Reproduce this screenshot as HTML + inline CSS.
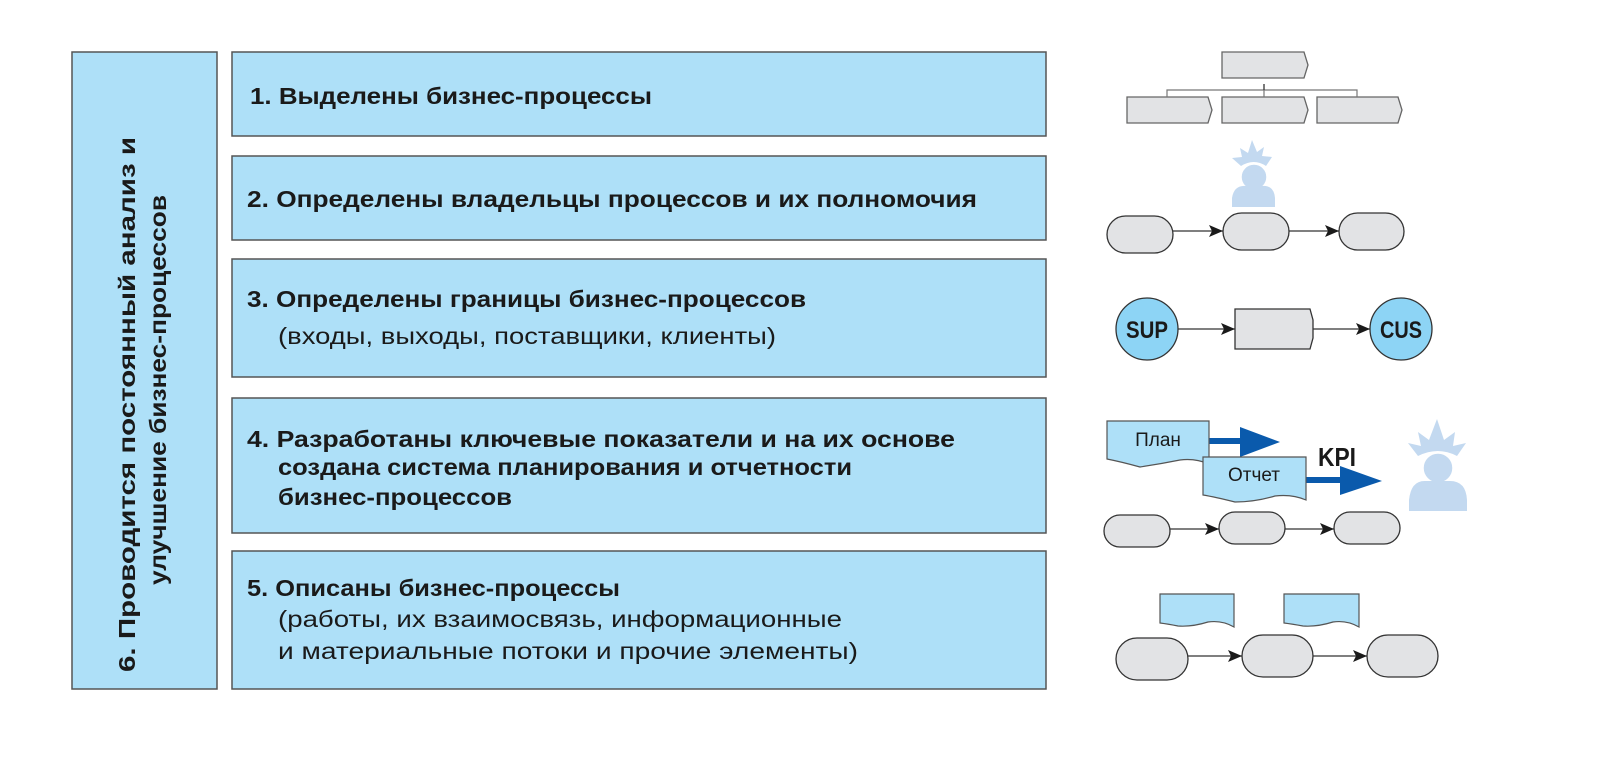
<!DOCTYPE html>
<html><head><meta charset="utf-8"><style>
html,body{margin:0;padding:0;background:#fff;}
svg{display:block;}
text{font-family:"Liberation Sans","DejaVu Sans",sans-serif;fill:#1a1a1a;}
.b{font-weight:bold;font-size:23px;}
.n{font-size:23px;}
</style></head><body>
<svg width="1597" height="769" viewBox="0 0 1597 769" xmlns="http://www.w3.org/2000/svg">
<defs>
<marker id="ah" markerWidth="14" markerHeight="12" refX="14" refY="6" orient="auto" markerUnits="userSpaceOnUse"><path d="M0,0 L14,6 L0,12 L3,6 Z" fill="#1a1a1a"/></marker>
</defs>
<g fill="#aee0f8" stroke="#555" stroke-width="1.5">
<rect x="72" y="52" width="145" height="637"/>
<rect x="232" y="52" width="814" height="84"/>
<rect x="232" y="156" width="814" height="84"/>
<rect x="232" y="259" width="814" height="118"/>
<rect x="232" y="398" width="814" height="135"/>
<rect x="232" y="551" width="814" height="138"/>
</g>
<text class="b" transform="translate(135,672) rotate(-90)" textLength="535" lengthAdjust="spacingAndGlyphs">6. Проводится постоянный анализ и</text>
<text class="b" transform="translate(166,585) rotate(-90)" textLength="390" lengthAdjust="spacingAndGlyphs">улучшение бизнес-процессов</text>

<text class="b" x="250" y="104" textLength="402" lengthAdjust="spacingAndGlyphs">1. Выделены бизнес-процессы</text>
<text class="b" x="247" y="207" textLength="730" lengthAdjust="spacingAndGlyphs">2. Определены владельцы процессов и их полномочия</text>
<text class="b" x="247" y="307" textLength="559" lengthAdjust="spacingAndGlyphs">3. Определены границы бизнес-процессов</text>
<text class="n" x="278" y="344" textLength="498" lengthAdjust="spacingAndGlyphs">(входы, выходы, поставщики, клиенты)</text>
<text class="b" x="247" y="447" textLength="708" lengthAdjust="spacingAndGlyphs">4. Разработаны ключевые показатели и на их основе</text>
<text class="b" x="278" y="475" textLength="574" lengthAdjust="spacingAndGlyphs">создана система планирования и отчетности</text>
<text class="b" x="278" y="505" textLength="234" lengthAdjust="spacingAndGlyphs">бизнес-процессов</text>
<text class="b" x="247" y="596" textLength="373" lengthAdjust="spacingAndGlyphs">5. Описаны бизнес-процессы</text>
<text class="n" x="278" y="627" textLength="564" lengthAdjust="spacingAndGlyphs">(работы, их взаимосвязь, информационные</text>
<text class="n" x="278" y="659" textLength="580" lengthAdjust="spacingAndGlyphs">и материальные потоки и прочие элементы)</text>

<!-- icon 1: hierarchy -->
<g fill="#e2e3e5" stroke="#666" stroke-width="1.3">
<path d="M1222,52 H1304 L1308,65 L1304,78 H1222 Z"/>
<path d="M1127,97 H1208 L1212,110 L1208,123 H1127 Z"/>
<path d="M1222,97 H1304 L1308,110 L1304,123 H1222 Z"/>
<path d="M1317,97 H1398 L1402,110 L1398,123 H1317 Z"/>
</g>
<path d="M1264,84 V97 M1167,97 V90 H1357 V97" fill="none" stroke="#777" stroke-width="1.2"/>
<path d="M1264,84 V90" stroke="#333" stroke-width="1.2"/>

<!-- person 1 -->
<g fill="#c3d9f0">
<path d="M1241,166 L1232,158 L1242,157 L1240,148 L1248,153 L1252,140 L1257,152 L1264,147 L1262,156 L1272,157 L1266,166 Q1254,158 1241,166 Z"/>
<circle cx="1254" cy="177" r="13" stroke="#fff" stroke-width="1.5"/>
<path d="M1232,207 V198 Q1234,185 1246,186 H1262 Q1274,185 1275,198 V207 Z"/>
</g>

<!-- row 2 ovals -->
<g fill="#e2e3e5" stroke="#333" stroke-width="1.3">
<rect x="1107" y="216" width="66" height="37" rx="18.5"/>
<rect x="1223" y="213" width="66" height="37" rx="18.5"/>
<rect x="1339" y="213" width="65" height="37" rx="18.5"/>
</g>
<g stroke="#333" stroke-width="1.2" marker-end="url(#ah)">
<line x1="1173" y1="231" x2="1223" y2="231"/>
<line x1="1289" y1="231" x2="1339" y2="231"/>
</g>

<!-- row 3 -->
<g stroke="#333" stroke-width="1.2" marker-end="url(#ah)">
<line x1="1178" y1="329" x2="1235" y2="329"/>
<line x1="1313" y1="329" x2="1370" y2="329"/>
</g>
<circle cx="1147" cy="329" r="31" fill="#8dd4f5" stroke="#333" stroke-width="1.3"/>
<circle cx="1401" cy="329" r="31" fill="#8dd4f5" stroke="#333" stroke-width="1.3"/>
<path d="M1235,309 H1310 L1313,320 L1313,338 L1310,349 H1235 Z" fill="#e2e3e5" stroke="#333" stroke-width="1.3"/>
<text x="1147" y="338" text-anchor="middle" font-weight="bold" font-size="24" textLength="42" lengthAdjust="spacingAndGlyphs">SUP</text>
<text x="1401" y="338" text-anchor="middle" font-weight="bold" font-size="24" textLength="42" lengthAdjust="spacingAndGlyphs">CUS</text>

<!-- row 4 docs -->
<path d="M1209,441 H1241" stroke="#0a5aac" stroke-width="6"/>
<path d="M1240,427 L1280,442 L1240,457 Z" fill="#0a5aac"/>
<path d="M1107,421 H1209 V464 Q1195,458 1180,460 Q1160,464 1140,467 Q1122,462 1107,459 Z" fill="#aee0f8" stroke="#555" stroke-width="1.2"/>
<text x="1158" y="446" text-anchor="middle" font-size="19">План</text>
<path d="M1306,480 H1341" stroke="#0a5aac" stroke-width="6"/>
<path d="M1340,466 L1382,481 L1340,495 Z" fill="#0a5aac"/>
<path d="M1203,457 H1306 V500 Q1292,494 1275,496 Q1255,502 1235,502 Q1215,497 1203,495 Z" fill="#aee0f8" stroke="#555" stroke-width="1.2"/>
<text x="1254" y="481" text-anchor="middle" font-size="19">Отчет</text>
<text x="1318" y="466" font-weight="bold" font-size="26" textLength="38" lengthAdjust="spacingAndGlyphs">KPI</text>

<!-- person 2 -->
<g fill="#c3d9f0">
<path d="M1418,456 L1408,443 L1421,446 L1418,432 L1429,440 L1437,419 L1444,440 L1455,432 L1453,446 L1466,443 L1457,456 Q1438,446 1418,456 Z"/>
<circle cx="1438" cy="468" r="15" stroke="#fff" stroke-width="1.5"/>
<path d="M1409,511 V500 Q1411,480 1426,481 H1450 Q1466,481 1467,500 V511 Z"/>
</g>

<!-- row 4 ovals -->
<g fill="#e2e3e5" stroke="#333" stroke-width="1.3">
<rect x="1104" y="515" width="66" height="32" rx="16"/>
<rect x="1219" y="512" width="66" height="32" rx="16"/>
<rect x="1334" y="512" width="66" height="32" rx="16"/>
</g>
<g stroke="#333" stroke-width="1.2" marker-end="url(#ah)">
<line x1="1170" y1="529" x2="1219" y2="529"/>
<line x1="1285" y1="529" x2="1334" y2="529"/>
</g>

<!-- row 5 -->
<g fill="#aee0f8" stroke="#555" stroke-width="1.2">
<path d="M1160,594 H1234 V627 Q1222,620 1208,622 Q1192,627 1178,626 Q1168,624 1160,623 Z"/>
<path d="M1284,594 H1359 V627 Q1347,620 1333,622 Q1317,627 1303,626 Q1292,624 1284,623 Z"/>
</g>
<g fill="#e2e3e5" stroke="#333" stroke-width="1.3">
<rect x="1116" y="638" width="72" height="42" rx="21"/>
<rect x="1242" y="635" width="71" height="42" rx="21"/>
<rect x="1367" y="635" width="71" height="42" rx="21"/>
</g>
<g stroke="#333" stroke-width="1.2" marker-end="url(#ah)">
<line x1="1188" y1="656" x2="1242" y2="656"/>
<line x1="1313" y1="656" x2="1367" y2="656"/>
</g>
</svg>
</body></html>
